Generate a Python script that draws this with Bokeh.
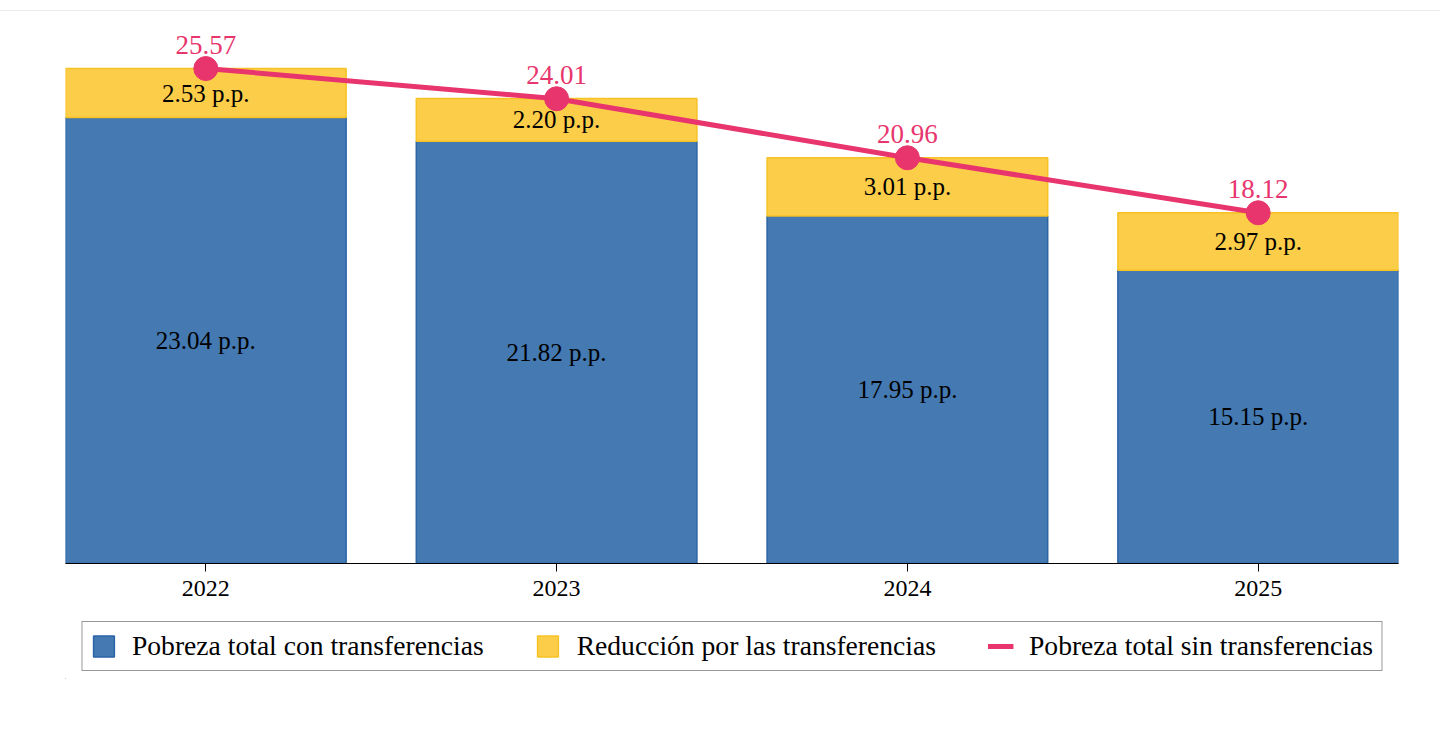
from bokeh.plotting import figure
from bokeh.models import ColumnDataSource, Legend, LegendItem, Range1d, FixedTicker, LabelSet, Div
from bokeh.layouts import column
from bokeh.embed import file_html
from bokeh.resources import INLINE

years = ["2022", "2023", "2024", "2025"]
con_transf = [23.04, 21.82, 17.95, 15.15]
reduccion = [2.53, 2.20, 3.01, 2.97]
sin_transf = [25.57, 24.01, 20.96, 18.12]
series_names = ["Pobreza total con transferencias",
                "Reducción por las transferencias",
                "Pobreza total sin transferencias"]

BLUE = "#4479b1"
BLUE_LINE = "#2a63a6"
YELLOW = "#fccd49"
YELLOW_LINE = "#f6c225"
PINK = "#e8356d"
FONT = "Liberation Serif"

x = list(range(len(years)))
src = ColumnDataSource(dict(
    x=x,
    con=con_transf,
    top=[c + r for c, r in zip(con_transf, reduccion)],
    sin=sin_transf,
    con_mid=[c / 2 for c in con_transf],
    red_mid=[c + r / 2 for c, r in zip(con_transf, reduccion)],
    con_lbl=[f"{v:.2f} p.p." for v in con_transf],
    red_lbl=[f"{v:.2f} p.p." for v in reduccion],
    sin_lbl=[f"{v:.2f}" for v in sin_transf],
))

bar_con = dict(fill_color=BLUE, line_color=BLUE_LINE, line_width=1.5)
bar_red = dict(fill_color=YELLOW, line_color=YELLOW_LINE, line_width=1.5)
line_sin = dict(line_color=PINK, line_width=5)

p = figure(frame_width=1333, frame_height=542,
           x_range=Range1d(-0.4, len(years) - 0.6), y_range=Range1d(0, 28.0),
           output_backend="svg", toolbar_location=None,
           min_border_left=65, min_border_right=42, min_border_top=10, min_border_bottom=50)

p.vbar(x="x", bottom=0, top="con", width=0.8, source=src, **bar_con)
p.vbar(x="x", bottom="con", top="top", width=0.8, source=src, **bar_red)
p.line(x="x", y="sin", source=src, **line_sin)
p.scatter(x="x", y="sin", source=src, size=24, fill_color=PINK, line_color=PINK)

p.add_layout(LabelSet(x="x", y="con_mid", text="con_lbl", source=src,
                      text_align="center", text_baseline="middle",
                      text_font=FONT, text_font_size="25px", text_color="black"))
p.add_layout(LabelSet(x="x", y="red_mid", text="red_lbl", source=src,
                      text_align="center", text_baseline="middle",
                      text_font=FONT, text_font_size="25px", text_color="black"))
p.add_layout(LabelSet(x="x", y="sin", text="sin_lbl", source=src, y_offset=24,
                      text_align="center", text_baseline="middle",
                      text_font=FONT, text_font_size="27px", text_color=PINK))

p.yaxis.visible = False
p.xgrid.visible = False
p.ygrid.visible = False
p.outline_line_color = None
p.xaxis.ticker = FixedTicker(ticks=x)
p.xaxis.major_label_overrides = {i: y for i, y in zip(x, years)}
p.xaxis.axis_line_color = "black"
p.xaxis.axis_line_width = 1
p.xaxis.major_tick_line_color = "black"
p.xaxis.major_tick_out = 8
p.xaxis.major_tick_in = 0
p.xaxis.minor_tick_line_color = None
p.xaxis.major_label_text_font = FONT
p.xaxis.major_label_text_font_size = "24px"
p.xaxis.major_label_text_color = "black"
p.xaxis.major_label_standoff = 9

# legend strip below the chart: same data and styles, ranges keep the glyphs out of view
lg = figure(frame_width=1333, frame_height=66,
            x_range=Range1d(8, 9), y_range=Range1d(60, 61),
            output_backend="svg", toolbar_location=None,
            min_border_left=65, min_border_right=42, min_border_top=0, min_border_bottom=0)
lg.axis.visible = False
lg.grid.visible = False
lg.outline_line_color = None
g1 = lg.vbar(x="x", bottom=0, top="con", width=0.8, source=src, **bar_con)
g2 = lg.vbar(x="x", bottom="con", top="top", width=0.8, source=src, **bar_red)
g3 = lg.line(x="x", y="sin", source=src, **line_sin)

legend = Legend(items=[LegendItem(label=n, renderers=[r]) for n, r in zip(series_names, [g1, g2, g3])],
                orientation="horizontal", location="center",
                label_text_font=FONT, label_text_font_size="27.6px", label_text_color="black",
                glyph_width=26, glyph_height=26, spacing=51, label_standoff=16, padding=8,
                label_height=32,
                border_line_color="#333333", border_line_width=1.5, margin=0)
lg.add_layout(legend)

top_line = Div(text="", width=1440, height=11, margin=0,
               styles={"border-bottom": "1px solid #e8ebee", "box-sizing": "border-box"})

layout = column(top_line, p, lg, spacing=0)
open("out.html", "w").write(file_html(layout, INLINE))
